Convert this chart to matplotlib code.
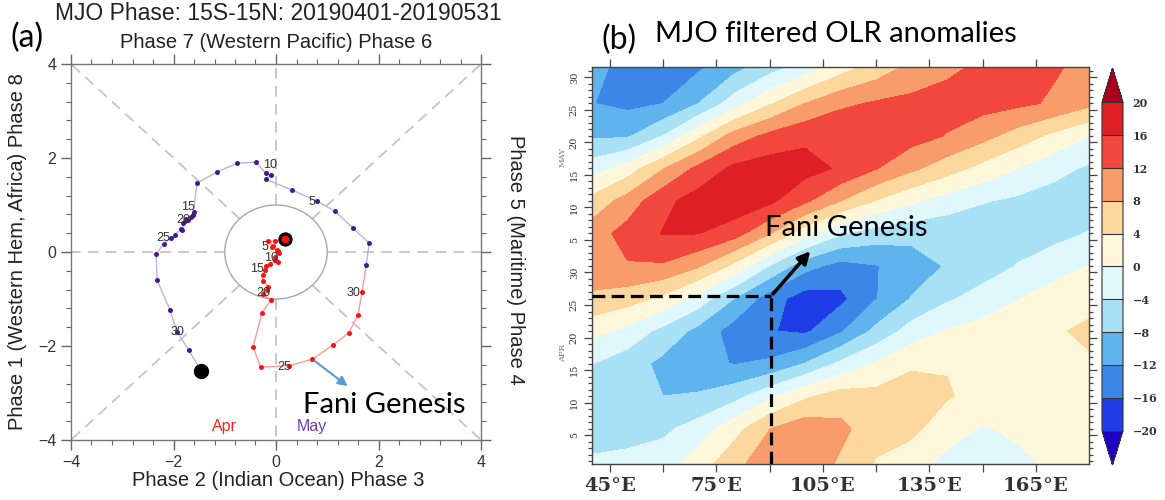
import numpy as np
import matplotlib
matplotlib.use('Agg')
import matplotlib.pyplot as plt
from matplotlib.colors import ListedColormap, BoundaryNorm
from matplotlib.patches import Circle
from matplotlib.ticker import MultipleLocator, FixedLocator, FuncFormatter

plt.rcParams['font.family'] = ['Liberation Sans', 'DejaVu Sans']

# ---------------- panel (a): daily RMM1 / RMM2, Apr + May 2019
apr_x = [0.18, -0.01, -0.15, -0.06, -0.08, 0.01, 0.06, 0.03, -0.02, -0.02,
         0.03, -0.02, -0.12, -0.20, -0.22, -0.25, -0.26, -0.15, -0.18, -0.25,
         -0.10, -0.27, -0.45, -0.30, 0.25, 0.71, 1.11, 1.42, 1.60, 1.68]
apr_y = [0.28, 0.23, 0.23, 0.13, 0.10, 0.04, -0.02, 0.02, -0.10, -0.16,
         -0.21, -0.18, -0.25, -0.30, -0.38, -0.49, -0.61, -0.74, -0.80, -0.90,
         -1.02, -1.29, -2.02, -2.45, -2.42, -2.28, -1.98, -1.72, -1.34, -0.85]
may_x = [1.76, 1.82, 1.50, 1.15, 0.80, 0.31, -0.20, -0.10, -0.20, -0.39,
         -0.76, -1.15, -1.54, -1.62, -1.60, -1.65, -1.72, -1.75, -1.81, -1.78,
         -1.83, -1.85, -1.97, -2.05, -2.19, -2.34, -2.32, -2.07, -1.93, -1.70,
         -1.46]
may_y = [-0.28, 0.19, 0.51, 0.87, 1.08, 1.32, 1.55, 1.64, 1.68, 1.91,
         1.89, 1.70, 1.47, 0.79, 0.85, 0.75, 0.68, 0.70, 0.62, 0.66,
         0.47, 0.50, 0.36, 0.30, 0.17, -0.04, -0.60, -1.23, -1.70, -2.09,
         -2.53]
label_days = [5, 10, 15, 20, 25, 30]
apr_lab_off = [(-0.13, 0.01), (-0.07, 0.03), (-0.15, 0.02), (0.0, 0.03), (-0.08, -0.03), (-0.17, -0.02)]
may_lab_off = [(-0.10, -0.02), (0.27, -0.06), (-0.11, 0.10), (-0.02, 0.03), (-0.01, 0.13), (-0.23, 0.39)]
genesis_day_a = 26  # Apr 26

# ---------------- panel (b): MJO filtered OLR anomaly (lon x day, day 0 = Apr 1)
lons = [40, 50, 60, 70, 80, 90, 100, 110, 120, 130, 140, 150, 160, 170, 180]
days = [-0.5, 5, 10, 15, 20, 25, 30, 35, 40, 45, 50, 55, 61]
olr = [
    [-3.5, -3.0, -1.7, 2.0, 6.8, 10.5, 10.4, 7.4, 3.6, 1.9, -1.5, -2.6, -1.0, 0.7, 1.0],
    [-5.3, -5.3, -4.9, -2.3, 2.4, 7.9, 10.4, 9.0, 5.7, 4.9, 2.0, -0.4, 0.8, 1.8, 1.7],
    [-6.0, -6.8, -8.0, -7.6, -5.5, -1.1, 3.3, 5.8, 5.3, 6.0, 4.3, 2.9, 2.6, 3.2, 2.9],
    [-3.9, -6.2, -9.0, -10.8, -12.2, -11.3, -7.9, -3.2, 0.3, 3.4, 3.8, 3.5, 3.3, 3.4, 3.6],
    [1.3, -1.3, -5.2, -9.3, -13.8, -15.8, -16.7, -12.5, -7.0, -2.3, 0.2, 1.5, 2.6, 3.6, 4.6],
    [7.1, 5.8, 3.0, -1.7, -8.0, -14.2, -17.9, -17.0, -12.2, -7.8, -4.6, -2.4, -0.2, 2.0, 3.0],
    [10.7, 11.7, 11.5, 8.4, 3.0, -4.2, -10.6, -13.5, -12.2, -10.0, -7.7, -6.0, -3.8, -1.9, 0.1],
    [10.1, 13.5, 16.2, 16.1, 13.7, 8.2, 1.5, -3.6, -5.9, -6.8, -7.0, -7.0, -5.9, -5.2, -3.8],
    [5.3, 9.7, 14.9, 17.8, 18.9, 16.9, 12.7, 8.0, 3.8, 0.7, -1.8, -3.7, -4.8, -5.8, -6.0],
    [-2.0, 1.9, 7.8, 13.0, 16.9, 18.0, 17.5, 15.5, 12.2, 8.8, 5.8, 2.7, -0.1, -2.7, -4.6],
    [-8.6, -8.5, -4.0, 3.0, 9.7, 13.1, 15.1, 15.8, 15.0, 13.6, 11.8, 9.3, 6.2, 3.0, 0.1],
    [-11.9, -13.0, -12.0, -8.0, -2.0, 3.5, 8.0, 11.1, 12.5, 13.2, 13.5, 13.5, 12.8, 11.5, 9.0],
    [-10.4, -13.6, -14.0, -13.0, -10.0, -6.5, -3.0, 1.5, 5.0, 8.5, 11.0, 12.5, 13.0, 12.5, 11.0],
]
levels = [-20, -16, -12, -8, -4, 0, 4, 8, 12, 16, 20]
fill_colors = ['#1f3de6', '#3c86e8', '#60b4ee', '#a8e1f6', '#e0f8fc',
               '#fff7da', '#fdd89e', '#f89c6c', '#f1473c', '#de1f26']
under_color = '#1c00c4'
over_color = '#a8001e'
day_ticks = [4, 9, 14, 19, 24, 29, 34, 39, 44, 49, 54, 59]
day_labels = ['5', '10', '15', '20', '25', '30', '5', '10', '15', '20', '25', '30']
genesis_lon = 90.5
genesis_day = 25.4

fig = plt.figure(figsize=(11.65, 5.0), dpi=100)
W, H = 1165.0, 500.0

# ======================= panel (a)
ax1 = fig.add_axes([71 / W, 60 / H, 410 / W, 376 / H])
ax1.set_xlim(-4, 4)
ax1.set_ylim(-4, 4)

for k in range(8):
    ang = np.deg2rad(45 * k)
    c, s = np.cos(ang), np.sin(ang)
    r_end = 4 / max(abs(c), abs(s))
    ax1.plot([c, c * r_end], [s, s * r_end], color='#c4c4c4', lw=1.3,
             dashes=(6, 4), zorder=1)
ax1.add_patch(Circle((0, 0), 1, fill=False, ec='#a8a8a8', lw=1, zorder=1))

ax1.plot(apr_x + [may_x[0]], apr_y + [may_y[0]], color='#ff9a9a', lw=1, zorder=2)
ax1.plot(may_x, may_y, color='#bdb2e2', lw=1, zorder=2)
ax1.plot(apr_x, apr_y, 'o', ms=3.6, color='#ff1010', mec='none', zorder=3)
ax1.plot(may_x, may_y, 'o', ms=3.6, color='#46198c', mec='none', zorder=3)
ax1.plot(apr_x[0], apr_y[0], 'o', ms=8, mfc='#ff1010', mec='black', mew=2.3, zorder=4)
ax1.plot(may_x[-1], may_y[-1], 'o', ms=10, color='black', zorder=4)

for d, (ox, oy) in zip(label_days, apr_lab_off):
    ax1.text(apr_x[d - 1] + ox, apr_y[d - 1] + oy, str(d), fontsize=9,
             color='#333333', ha='center', va='center', zorder=5)
for d, (ox, oy) in zip(label_days, may_lab_off):
    ax1.text(may_x[d - 1] + ox, may_y[d - 1] + oy, str(d), fontsize=9,
             color='#333333', ha='center', va='center', zorder=5)

ax1.text(-1.0, -3.72, 'Apr', color='#ff2020', fontsize=11.5, ha='center', va='center')
ax1.text(0.7, -3.72, 'May', color='#6a40a8', fontsize=11.5, ha='center', va='center')

ax1.annotate('', xy=(1.44, -2.89), xytext=(apr_x[genesis_day_a - 1], apr_y[genesis_day_a - 1]),
             arrowprops=dict(arrowstyle='-|>', color='#5b9bd5', lw=1.5, mutation_scale=14),
             zorder=5)
ax1.text(0.53, -3.26, 'Fani Genesis', family=['Lato', 'DejaVu Sans'], fontsize=21,
         ha='left', va='center', color='black')

ax1.set_xticks([-4, -2, 0, 2, 4])
ax1.set_yticks([-4, -2, 0, 2, 4])
ax1.xaxis.set_minor_locator(MultipleLocator(0.4))
ax1.yaxis.set_minor_locator(MultipleLocator(0.4))
ax1.tick_params(which='both', direction='out', top=True, right=True,
                color='#666666', labelcolor='#333333', labelsize=11.5)
ax1.tick_params(which='major', length=7, width=1)
ax1.tick_params(which='minor', length=3.5, width=0.8)
for sp in ax1.spines.values():
    sp.set_color('#777777')
    sp.set_linewidth(1)

fig.text(278 / W, 1 - 14 / H, 'MJO Phase: 15S-15N: 20190401-20190531',
         ha='center', va='center', fontsize=16.5, color='#222222')
fig.text(276 / W, 1 - 43 / H, 'Phase 7 (Western Pacific) Phase 6',
         ha='center', va='center', fontsize=14.5, color='#222222')
fig.text(278 / W, 1 - 481 / H, 'Phase 2 (Indian Ocean) Phase 3',
         ha='center', va='center', fontsize=14.5, color='#222222')
fig.text(18 / W, 1 - 252 / H, 'Phase 1 (Western Hem, Africa) Phase 8',
         ha='center', va='center', fontsize=14.5, color='#222222', rotation=90)
fig.text(515 / W, 1 - 260 / H, 'Phase 5 (Maritime) Phase 4',
         ha='center', va='center', fontsize=14.5, color='#222222', rotation=270)
fig.text(27 / W, 1 - 38 / H, '(a)', family=['Lato', 'DejaVu Sans'], fontsize=23,
         ha='center', va='center')

# ======================= panel (b)
ax2 = fig.add_axes([592 / W, 36 / H, 497 / W, 397 / H])
cmap = ListedColormap(fill_colors)
cmap.set_under(under_color)
cmap.set_over(over_color)
norm = BoundaryNorm(levels, cmap.N)
cf = ax2.contourf(lons, days, np.array(olr), levels=levels, cmap=cmap, norm=norm,
                  extend='both')
ax2.set_xlim(40, 180)
ax2.set_ylim(-0.45, 60.6)

ax2.plot([40, genesis_lon], [genesis_day, genesis_day], color='black', lw=2.3,
         dashes=(4, 2), zorder=5)
ax2.plot([genesis_lon, genesis_lon], [-0.45, genesis_day], color='black', lw=2.3,
         dashes=(4, 2), zorder=5)
ax2.annotate('', xy=(102, 32.6), xytext=(genesis_lon, genesis_day),
             arrowprops=dict(arrowstyle='-|>', color='black', lw=2.5, mutation_scale=18),
             zorder=6)
ax2.text(88.7, 35.9, 'Fani Genesis', family=['Lato', 'DejaVu Sans'], fontsize=21,
         ha='left', va='center', color='black', zorder=6)

serif = ['DejaVu Serif']
ax2.xaxis.set_major_locator(FixedLocator([45, 60, 75, 90, 105, 120, 135, 150, 165]))
ax2.xaxis.set_major_formatter(FuncFormatter(
    lambda v, p: f'{int(v)}\u00b0E' if int(v - 45) % 30 == 0 else ''))
ax2.yaxis.set_major_locator(FixedLocator(day_ticks))
ax2.yaxis.set_minor_locator(MultipleLocator(1))
ax2.set_yticklabels(day_labels)
ax2.tick_params(which='both', direction='out', top=True, right=True,
                color='#444444', width=0.9)
ax2.tick_params(which='major', length=6)
ax2.tick_params(which='minor', length=3)
for lab in ax2.get_xticklabels():
    lab.set_family(serif)
    lab.set_fontsize(14)
    lab.set_fontweight('bold')
    lab.set_color('#333333')
for lab in ax2.get_yticklabels():
    lab.set_family(serif)
    lab.set_fontsize(7)
    lab.set_rotation(90)
    lab.set_va('center')
    lab.set_color('#333333')
for sp in ax2.spines.values():
    sp.set_color('#444444')
    sp.set_linewidth(1)

fig.text(563 / W, 1 - 157 / H, 'MAY', family=serif, fontsize=6, rotation=90,
         ha='center', va='center', color='#777777')
fig.text(563 / W, 1 - 353 / H, 'APR', family=serif, fontsize=6, rotation=90,
         ha='center', va='center', color='#777777')

cax = fig.add_axes([1102 / W, 35 / H, 21 / W, 397 / H])
cb = fig.colorbar(cf, cax=cax, extend='both', extendfrac=0.105, drawedges=True)
cb.set_ticks(levels)
cb.ax.tick_params(length=0, pad=7)
for lab in cb.ax.get_yticklabels():
    lab.set_family(serif)
    lab.set_fontsize(8)
    lab.set_fontweight('bold')
    lab.set_color('#333333')
cb.outline.set_linewidth(0.8)
cb.outline.set_edgecolor('#333333')
cb.dividers.set_linewidth(0.8)
cb.dividers.set_color('#333333')

fig.text(619 / W, 1 - 40 / H, '(b)', family=['Lato', 'DejaVu Sans'], fontsize=23,
         ha='center', va='center')
fig.text(655 / W, 1 - 34 / H, 'MJO filtered OLR anomalies', family=['Lato', 'DejaVu Sans'],
         fontsize=21, ha='left', va='center')

fig.savefig('out.png', dpi=100)
